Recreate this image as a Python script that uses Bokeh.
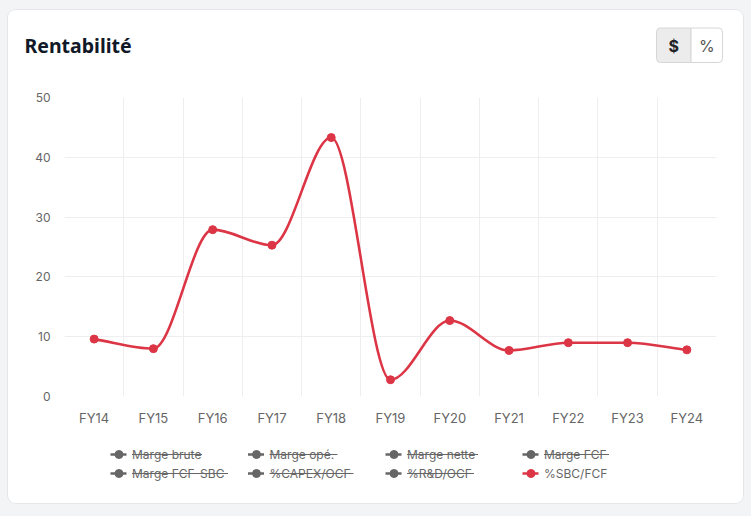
import numpy as np
from bokeh.plotting import figure
from bokeh.models import Range1d, FixedTicker
from bokeh.layouts import column
from bokeh.embed import file_html
from bokeh.resources import INLINE
from bokeh.core.properties import value

# ---------------- data ----------------
title_text = "Rentabilité"
unit_buttons = ["$", "%"]
years = ["FY14", "FY15", "FY16", "FY17", "FY18", "FY19", "FY20", "FY21", "FY22", "FY23", "FY24"]
sbc_fcf = [9.6, 8.0, 27.9, 25.3, 43.3, 2.8, 12.7, 7.7, 9.0, 9.0, 7.8]
y_ticks = [0, 10, 20, 30, 40, 50]
legend_labels = ["Marge brute", "Marge opé.", "Marge nette", "Marge FCF",
                 "Marge FCF-SBC", "%CAPEX/OCF", "%R&D/OCF", "%SBC/FCF"]
legend_hidden = [True, True, True, True, True, True, True, False]

# ---------------- style ----------------
RED = "#dc3545"
GRAY_TXT = "#666666"
GRID = "#eeeeee"
FONT = "Inter"
W = 735
# strike-through widths of hidden legend labels (layout, px)
STRIKE_W = [70, 68, 71, 65, 96, 84, 67, 0]


def monotone_controls(xs, ys):
    n = len(xs)
    dk = [0.0] * n
    mk = [0.0] * n
    for i in range(n):
        if i < n - 1:
            dx = xs[i + 1] - xs[i]
            dk[i] = (ys[i + 1] - ys[i]) / dx if dx else 0.0
        if i == 0:
            mk[i] = dk[i]
        elif i == n - 1:
            mk[i] = dk[i - 1]
        elif np.sign(dk[i - 1]) != np.sign(dk[i]):
            mk[i] = 0.0
        else:
            mk[i] = (dk[i - 1] + dk[i]) / 2
    for i in range(n - 1):
        if abs(dk[i]) < 1e-12:
            mk[i] = mk[i + 1] = 0.0
            continue
        a = mk[i] / dk[i]
        b = mk[i + 1] / dk[i]
        s = a * a + b * b
        if s <= 9:
            continue
        t = 3 / np.sqrt(s)
        mk[i] = a * t * dk[i]
        mk[i + 1] = b * t * dk[i]
    seg = dict(x0=[], y0=[], x1=[], y1=[], cx0=[], cy0=[], cx1=[], cy1=[])
    for i in range(n - 1):
        d = (xs[i + 1] - xs[i]) / 3
        seg["x0"].append(xs[i]); seg["y0"].append(ys[i])
        seg["x1"].append(xs[i + 1]); seg["y1"].append(ys[i + 1])
        seg["cx0"].append(xs[i] + d); seg["cy0"].append(ys[i] + d * mk[i])
        seg["cx1"].append(xs[i + 1] - d); seg["cy1"].append(ys[i + 1] - d * mk[i + 1])
    return seg


def bare(width, height, xr, yr):
    f = figure(width=width, height=height, x_range=xr, y_range=yr,
               x_axis_type=None, y_axis_type=None, min_border=0,
               output_backend="svg", toolbar_location=None)
    f.outline_line_color = None
    f.background_fill_color = "white"
    f.border_fill_color = "white"
    return f


# ---------------- header ----------------
hdr = bare(W, 75, Range1d(8, 743), Range1d(85, 10))
hdr.text(x=[24], y=[45], text=[title_text], text_font=value("Noto Sans"),
         text_font_style="bold", text_font_size="19.5px", text_color="#111827",
         text_baseline="middle", text_align="left")
hdr.quad(left=[656], right=[690.5], top=[27.5], bottom=[62], fill_color="#ececec",
         line_color="#d6d6d6", line_width=1, border_radius=(4, 0, 0, 4))
hdr.quad(left=[690.5], right=[722], top=[27.5], bottom=[62], fill_color="white",
         line_color="#d6d6d6", line_width=1, border_radius=(0, 4, 4, 0))
hdr.text(x=[673.25], y=[45], text=[unit_buttons[0]], text_font=value(FONT),
         text_font_size="16px", text_color="#1f2328",
         text_font_style="bold", text_baseline="middle", text_align="center")
hdr.text(x=[706.25], y=[45], text=[unit_buttons[1]], text_font=value(FONT),
         text_font_size="16px", text_color="#555555",
         text_font_style="normal", text_baseline="middle", text_align="center")

# ---------------- main chart ----------------
xs = list(range(len(years)))
p = figure(width=W, height=350, x_range=Range1d(-0.5, len(years) - 0.5),
           y_range=Range1d(0, 50), min_border_left=56, min_border_right=27,
           min_border_top=12, min_border_bottom=39,
           output_backend="svg", toolbar_location=None)
p.outline_line_color = None
p.background_fill_color = "white"
p.border_fill_color = "white"

p.yaxis.ticker = FixedTicker(ticks=y_ticks)
p.xaxis.ticker = FixedTicker(ticks=xs)
p.xaxis.major_label_overrides = {i: y for i, y in enumerate(years)}
for ax in (p.xaxis[0], p.yaxis[0]):
    ax.axis_line_color = None
    ax.major_tick_line_color = None
    ax.minor_tick_line_color = None
    ax.major_tick_out = 0
    ax.major_tick_in = 0
    ax.major_label_text_font = FONT
    ax.major_label_text_color = GRAY_TXT
p.yaxis.major_label_text_font_size = "12px"
p.xaxis.major_label_text_font_size = "13px"
p.yaxis.major_label_standoff = 14
p.xaxis.major_label_standoff = 13

p.ygrid.ticker = FixedTicker(ticks=y_ticks)
p.xgrid.ticker = FixedTicker(ticks=[i - 0.5 for i in range(len(years) + 1)])
p.grid.grid_line_color = GRID
p.grid.grid_line_width = 1

seg = monotone_controls(xs, sbc_fcf)
p.bezier(line_color=RED, line_width=2.6, line_cap="round", **seg)
p.scatter(xs, sbc_fcf, size=8, fill_color=RED, line_color=RED, line_width=1)

# ---------------- legend ----------------
leg = bare(W, 68, Range1d(8, 743), Range1d(503, 435))
col_x = [110, 247.5, 385, 522]
row_y = [454, 473]
for i, lab in enumerate(legend_labels):
    x0 = col_x[i % 4]
    y = row_y[i // 4]
    c = GRAY_TXT if legend_hidden[i] else RED
    leg.segment(x0=[x0], y0=[y], x1=[x0 + 16], y1=[y], line_color=c, line_width=2.5)
    leg.scatter([x0 + 8.5], [y], size=8, fill_color=c, line_color=c)
    leg.text(x=[x0 + 21.5], y=[y], text=[lab], text_font=value(FONT),
             text_font_size="12px", text_color=GRAY_TXT,
             text_baseline="middle", text_align="left")
    if legend_hidden[i]:
        leg.segment(x0=[x0 + 21.5], y0=[y], x1=[x0 + 21.5 + STRIKE_W[i]], y1=[y],
                    line_color=GRAY_TXT, line_width=1.2)

# wrap the chart so its frame is not aligned with header/legend frames
chart_box = column(p, width=W, height=350, spacing=0)
card = column(hdr, chart_box, leg, width=W, height=493, spacing=0, margin=(10, 8, 13, 8),
              styles={"background-color": "white", "border-radius": "8px",
                      "box-shadow": "0 0 0 1px #e4e6ea", "overflow": "hidden"})
page = column(card, width=751, height=516,
              styles={"background-color": "#f3f4f6"})

open("out.html", "w").write(file_html(page, INLINE))
